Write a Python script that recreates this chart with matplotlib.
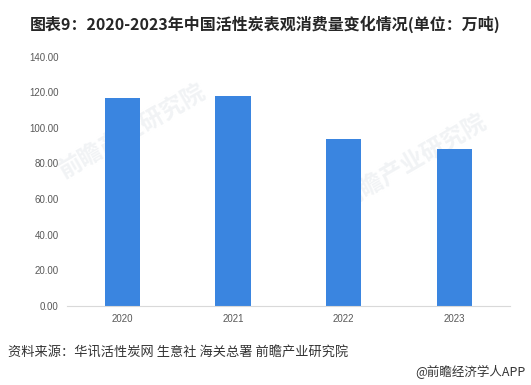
import matplotlib.pyplot as plt

plt.rcParams['font.family'] = ['Noto Sans CJK SC', 'DejaVu Sans']

years = ["2020", "2021", "2022", "2023"]
consumption = [116.8, 117.6, 93.6, 88.0]
yticks = [0, 20, 40, 60, 80, 100, 120, 140]

fig = plt.figure(figsize=(5.31, 3.85), dpi=100)
ax = fig.add_axes([0.126, 0.206, 0.834, 0.647])

# faint watermarks, behind the bars
for wx, wy in [(0.25, 0.66), (0.78, 0.58)]:
    ax.text(wx, wy, "前瞻产业研究院", fontsize=17, color="#F1F3F5",
            rotation=30, ha="center", va="center", weight="bold",
            transform=fig.transFigure, zorder=1)

x = range(len(years))
ax.bar(x, consumption, width=0.32, color="#3A85E0", zorder=2)

ax.set_xlim(-0.5, len(years) - 0.5)
ax.set_ylim(0, 140)
ax.set_yticks(yticks)
ax.set_yticklabels([f"{v:.2f}" for v in yticks], family="Liberation Sans",
                   fontsize=7, color="#595959")
ax.set_xticks(list(x))
ax.set_xticklabels(years, family="Liberation Sans", fontsize=7, color="#595959")
ax.tick_params(length=0, pad=6)

for side in ["top", "right", "left"]:
    ax.spines[side].set_visible(False)
ax.spines["bottom"].set_color("#D9D9D9")

fig.text(0.5, 0.938, "图表9：2020-2023年中国活性炭表观消费量变化情况(单位：万吨)",
         ha="center", va="center", fontsize=11.5, weight="bold", color="#262626")
fig.text(0.015, 0.085, "资料来源：华讯活性炭网 生意社 海关总署 前瞻产业研究院",
         ha="left", va="center", fontsize=9.5, color="#333333")
fig.text(0.99, 0.033, "@前瞻经济学人APP", ha="right", va="center",
         fontsize=9, color="#333333")

fig.savefig("out.png", dpi=100)
